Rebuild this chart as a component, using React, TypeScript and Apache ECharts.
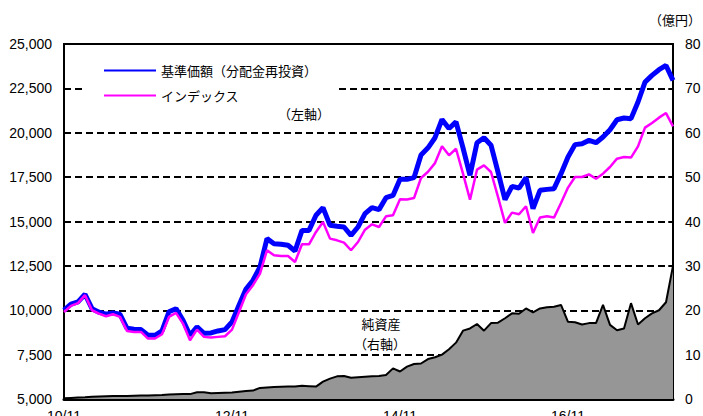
import React, { useEffect, useRef } from "react";
import * as echarts from "echarts";

// Monthly categories from 2010/11 (YY/MM)
const START_YEAR = 2010;
const START_MONTH = 11;
const N_MONTHS = 88;
const months: string[] = [];
for (let i = 0; i < N_MONTHS; i++) {
  const t = START_MONTH - 1 + i;
  const y = START_YEAR + Math.floor(t / 12);
  const m = (t % 12) + 1;
  months.push(`${String(y % 100).padStart(2, "0")}/${String(m).padStart(2, "0")}`);
}

const navName = "基準価額（分配金再投資）";
const idxName = "インデックス";
const assetName = "純資産";

// 基準価額（分配金再投資） (left axis, yen)
const navValues = [
  10000, 10340, 10470, 10900, 10090, 9890, 9775, 9850, 9775, 8985,
  8930, 8910, 8590, 8590, 8835, 9910, 10090, 9435, 8590, 9065,
  8700, 8720, 8835, 8910, 9345, 10280, 11200, 11690, 12440, 14035,
  13750, 13715, 13660, 13340, 14500, 14500, 15350, 15780, 14785, 14730,
  14690, 14220, 14690, 15440, 15780, 15670, 16340, 16470, 17375, 17375,
  17470, 18750, 19150, 19720, 20750, 20240, 20610, 19150, 17600, 19440,
  19720, 19300, 17785, 16230, 16980, 16885, 17470, 15725, 16755, 16810,
  16850, 17695, 18630, 19330, 19385, 19570, 19440, 19760, 20170, 20735,
  20830, 20795, 21730, 22855, 23230, 23550, 23790, 22950,
];

// インデックス (left axis)
const indexValues = [
  9900, 10250, 10400, 10850, 10000, 9810, 9660, 9775, 9625, 8835,
  8780, 8780, 8405, 8405, 8650, 9625, 9850, 9250, 8310, 8910,
  8500, 8460, 8500, 8535, 8910, 9900, 10900, 11410, 12065, 13380,
  13095, 13060, 13060, 12720, 13715, 13715, 14410, 14970, 14035, 13940,
  13810, 13380, 13845, 14540, 14840, 14690, 15290, 15350, 16250, 16240,
  16320, 17450, 17800, 18290, 19235, 18730, 19100, 17695, 16230, 17920,
  18165, 17790, 16385, 14920, 15500, 15410, 15860, 14360, 15220, 15290,
  15220, 16045, 16910, 17505, 17505, 17655, 17410, 17695, 18070, 18540,
  18630, 18600, 19235, 20290, 20550, 20850, 21110, 20360,
];

// 純資産 (right axis, 億円)
const assetValues = [
  0.15, 0.25, 0.35, 0.4, 0.5, 0.55, 0.6, 0.65, 0.7, 0.7,
  0.75, 0.8, 0.8, 0.85, 0.9, 1.0, 1.05, 1.1, 1.1, 1.5,
  1.5, 1.3, 1.35, 1.4, 1.45, 1.65, 1.8, 1.9, 2.5, 2.6,
  2.7, 2.75, 2.8, 2.8, 3.0, 2.9, 2.8, 3.9, 4.6, 5.1,
  5.2, 4.8, 4.9, 5.0, 5.1, 5.2, 5.4, 6.9, 6.2, 7.3,
  7.9, 8.0, 9.0, 9.4, 10.0, 11.2, 12.7, 15.4, 15.9, 16.9,
  15.4, 17.1, 17.2, 18.2, 19.3, 19.2, 20.4, 19.5, 20.4, 20.7,
  20.8, 21.2, 17.4, 17.3, 16.8, 17.1, 17.1, 21.2, 16.7, 15.5,
  15.9, 21.6, 16.8, 18.2, 19.3, 20.0, 21.8, 30.0,
];

const leftTicks = { min: 5000, max: 25000, interval: 2500 };
const rightTicks = { min: 0, max: 80, interval: 10 };

const LATIN = "'Liberation Sans', Arial, sans-serif";
const CJK = "'Noto Sans CJK JP', 'Noto Sans', sans-serif";

export default function App() {
  const ref = useRef<HTMLDivElement>(null);
  useEffect(() => {
    if (!ref.current) return;
    const chart = echarts.init(ref.current, undefined, { renderer: "svg" });
    const labelEvery = (i: number) => i % 24 === 0;
    chart.setOption({
      animation: false,
      backgroundColor: "#fff",
      grid: {
        left: 64,
        right: 30,
        top: 44,
        bottom: 17,
        containLabel: false,
        outerBoundsMode: "none",
        show: true,
        borderColor: "#000",
        borderWidth: 2,
        backgroundColor: "transparent",
      },
      legend: {
        data: [navName, idxName],
        orient: "vertical",
        left: 82,
        top: 56,
        padding: [8, 21, 22, 21],
        backgroundColor: "#fff",
        itemWidth: 52,
        itemHeight: 14,
        itemGap: 12,
        itemStyle: { opacity: 0 },
        textStyle: { fontFamily: CJK, fontSize: 13, color: "#000" },
      },
      xAxis: {
        type: "category",
        data: months,
        boundaryGap: false,
        axisLine: { lineStyle: { color: "#000", width: 3 } },
        axisTick: {
          show: true,
          inside: true,
          length: 5,
          interval: labelEvery,
          lineStyle: { color: "#000", width: 1.5 },
        },
        axisLabel: {
          interval: labelEvery,
          color: "#000",
          fontFamily: LATIN,
          fontSize: 14,
          margin: 10,
        },
        splitLine: { show: false },
      },
      yAxis: [
        {
          type: "value",
          min: leftTicks.min,
          max: leftTicks.max,
          interval: leftTicks.interval,
          position: "left",
          axisLine: { show: true, lineStyle: { color: "#000", width: 2 } },
          axisTick: { show: false },
          axisLabel: {
            color: "#000",
            fontFamily: LATIN,
            fontSize: 14,
            margin: 12,
            formatter: (v: number) => v.toLocaleString("en-US"),
          },
          splitLine: {
            show: true,
            lineStyle: { color: "#000", width: 2, type: [7, 4] },
          },
        },
        {
          type: "value",
          min: rightTicks.min,
          max: rightTicks.max,
          interval: rightTicks.interval,
          position: "right",
          axisLine: { show: true, lineStyle: { color: "#000", width: 2 } },
          axisTick: {
            show: true,
            inside: true,
            length: 5,
            lineStyle: { color: "#000", width: 1.5 },
          },
          axisLabel: {
            color: "#000",
            fontFamily: LATIN,
            fontSize: 14,
            margin: 12,
          },
          splitLine: { show: false },
        },
      ],
      series: [
        {
          name: assetName,
          type: "line",
          yAxisIndex: 1,
          data: assetValues,
          showSymbol: false,
          symbol: "none",
          lineStyle: { color: "#000", width: 2 },
          areaStyle: { color: "#969696", opacity: 1 },
          z: 2,
        },
        {
          name: navName,
          type: "line",
          yAxisIndex: 0,
          data: navValues,
          showSymbol: false,
          symbol: "none",
          color: "#0000ff",
          lineStyle: { color: "#0000ff", width: 5 },
          z: 3,
        },
        {
          name: idxName,
          type: "line",
          yAxisIndex: 0,
          data: indexValues,
          showSymbol: false,
          symbol: "none",
          color: "#ff00ff",
          lineStyle: { color: "#ff00ff", width: 2.5 },
          z: 4,
        },
      ],
      graphic: [
        {
          type: "text",
          x: 304,
          y: 113,
          z: 10,
          style: {
            text: "（左軸）",
            font: `13px ${CJK}`,
            fill: "#000",
            align: "center",
            verticalAlign: "middle",
          },
        },
        {
          type: "text",
          x: 381,
          y: 323,
          z: 10,
          style: {
            text: "純資産",
            font: `13px ${CJK}`,
            fill: "#000",
            align: "center",
            verticalAlign: "middle",
          },
        },
        {
          type: "text",
          x: 380,
          y: 343,
          z: 10,
          style: {
            text: "（右軸）",
            font: `13px ${CJK}`,
            fill: "#000",
            align: "center",
            verticalAlign: "middle",
          },
        },
        {
          type: "text",
          x: 675,
          y: 19,
          z: 10,
          style: {
            text: "（億円）",
            font: `13px ${CJK}`,
            fill: "#000",
            align: "center",
            verticalAlign: "middle",
          },
        },
      ],
    });
    return () => chart.dispose();
  }, []);
  return (
    <div
      ref={ref}
      style={{ position: "fixed", left: 0, top: 0, width: 703, height: 416, background: "#fff" }}
    />
  );
}
